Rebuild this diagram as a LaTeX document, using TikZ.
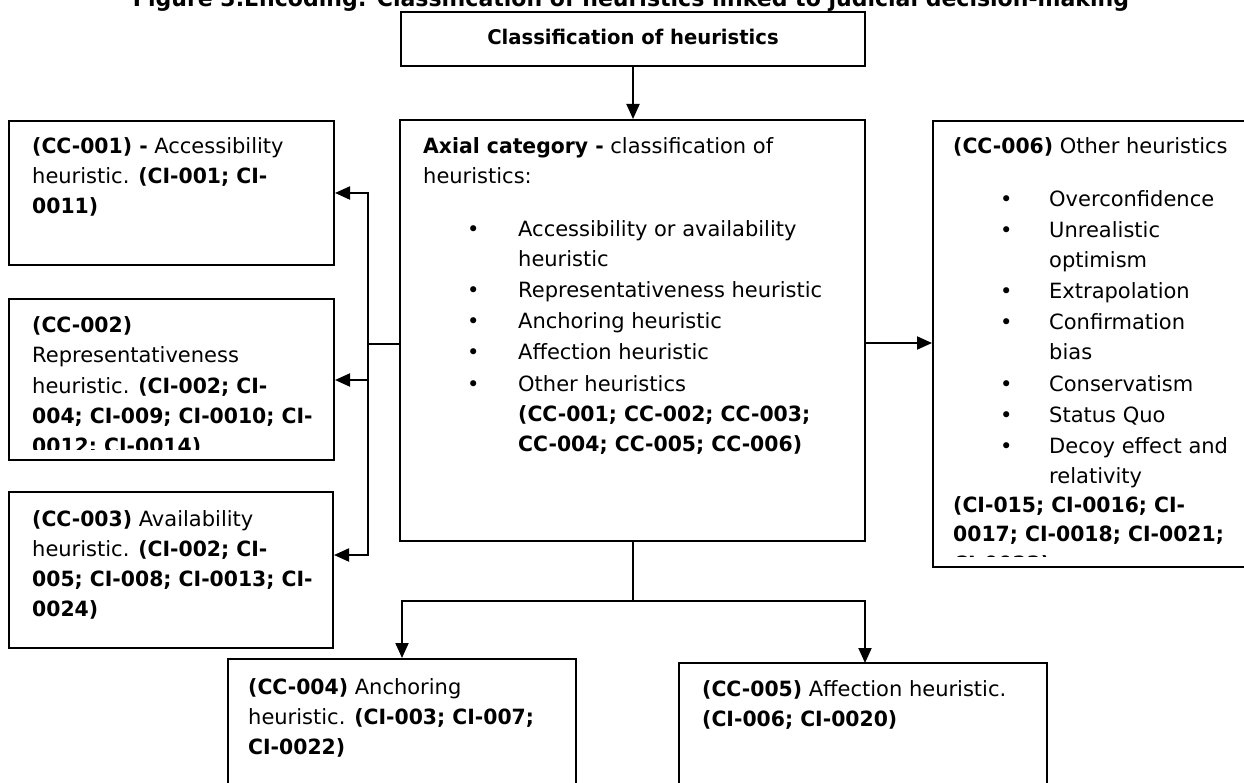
\documentclass[tikz,border=0pt]{standalone}
\usepackage{fontspec}
\setmainfont{DejaVu Sans}[BoldFeatures={FakeStretch=0.97}]
\usetikzlibrary{arrows.meta,fit}

% shared looks
\tikzset{
  box/.style={draw=black, line width=2pt, inner sep=0pt},
  conn/.style={draw=black, line width=2pt},
  arr/.style={conn, -{Triangle[length=15pt,width=13pt]}},
  twoarr/.style={conn, {Triangle[length=15pt,width=13pt]}-{Triangle[length=15pt,width=13pt]}},
  txt/.style={anchor=base west, inner sep=0pt, font=\fontsize{21}{30}\selectfont},
  head/.style={anchor=base, inner sep=0pt, font=\bfseries\fontsize{20.2}{30}\selectfont},
}

% a block of manually broken lines, hanging from its first baseline
\newcommand\lines[1]{\parbox[t]{420pt}{\raggedright #1}}
% bullet centred at #1, item text starting at #2
\newcommand\bul[2]{\makebox[#2][l]{\hspace*{#1}\makebox[0pt]{\textbullet}}}

\begin{document}
\begin{tikzpicture}[x=1pt,y=-1pt]
\useasboundingbox (0,0) rectangle (1244,783);
\clip (0,0) rectangle (1244,783);

% caption
\node[head, font=\bfseries\fontsize{22.7}{26}\selectfont] (caption) at (631,7)
  {Figure 3.Encoding: Classification of heuristics linked to judicial decision-making};

% boxes
\node[box, fit={(401,12) (865,66)}] (top) {};
\node[box, fit={(400,120) (865,541)}] (axial) {};
\node[box, fit={(9,121) (334,265)}] (cc1) {};
\node[box, fit={(9,299) (334,460)}] (cc2) {};
\node[box, fit={(9,492) (333,648)}] (cc3) {};
\node[box, fit={(933,121) (1262,567)}] (cc6) {};
\node[box, fit={(228,659) (576,800)}] (cc4) {};
\node[box, fit={(679,663) (1047,800)}] (cc5) {};

% texts
\node[head] (ttop) at (633,45) {Classification of heuristics};

\node[txt] (tcc1) at (32,154) {\lines{%
  \textbf{(CC-001) -} Accessibility\\
  heuristic. \textbf{(CI-001; CI-}\\
  \textbf{0011)}}};

\begin{scope}
  \clip (10,300) rectangle (333,449);
  \node[txt] (tcc2) at (32,333) {\lines{%
    \textbf{(CC-002)}\\
    Representativeness\\
    heuristic. \textbf{(CI-002; CI-}\\
    \textbf{004; CI-009; CI-0010; CI-}\\
    \textbf{0012; CI-0014)}}};
\end{scope}

\node[txt] (tcc3) at (32,526) {\lines{%
  \textbf{(CC-003)} Availability\\
  heuristic. \textbf{(CI-002; CI-}\\
  \textbf{005; CI-008; CI-0013; CI-}\\
  \textbf{0024)}}};

\node[txt] (taxial) at (423,154) {\lines{%
  \textbf{Axial category -} classification of\\
  heuristics:\\[23pt]
  \bul{50pt}{95pt}Accessibility or availability\\
  \hspace*{95pt}heuristic\\[1pt]
  \bul{50pt}{95pt}Representativeness heuristic\\[1pt]
  \bul{50pt}{95pt}Anchoring heuristic\\[1pt]
  \bul{50pt}{95pt}Affection heuristic\\[2pt]
  \bul{50pt}{95pt}Other heuristics\\
  \hspace*{95pt}\textbf{(CC-001; CC-002; CC-003;}\\
  \hspace*{95pt}\textbf{CC-004; CC-005; CC-006)}}};

\begin{scope}
  \clip (934,122) rectangle (1244,556);
  \node[txt] (tcc6) at (953,154) {\lines{%
    \textbf{(CC-006)} Other heuristics\\[23pt]
    \bul{53pt}{96pt}Overconfidence\\[1pt]
    \bul{53pt}{96pt}Unrealistic\\
    \hspace*{96pt}optimism\\[1pt]
    \bul{53pt}{96pt}Extrapolation\\[1pt]
    \bul{53pt}{96pt}Confirmation\\
    \hspace*{96pt}bias\\[2pt]
    \bul{53pt}{96pt}Conservatism\\[1pt]
    \bul{53pt}{96pt}Status Quo\\[1pt]
    \bul{53pt}{96pt}Decoy effect and\\
    \hspace*{96pt}relativity\\[-1pt]
    \textbf{(CI-015; CI-0016; CI-}\\[-1pt]
    \textbf{0017; CI-0018; CI-0021;}\\
    \textbf{CI-0023)}}};
\end{scope}

\node[txt] (tcc4) at (248,694) {\lines{%
  \textbf{(CC-004)} Anchoring\\
  heuristic. \textbf{(CI-003; CI-007;}\\
  \textbf{CI-0022)}}};

\node[txt] (tcc5) at (702,696) {\lines{%
  \textbf{(CC-005)} Affection heuristic.\\
  \textbf{(CI-006; CI-0020)}}};

% junction points of the connectors
\coordinate (jL) at (400,344);
\coordinate (bus1) at (368,193);
\coordinate (bus2) at (368,380);
\coordinate (bus3) at (368,555);
\coordinate (jR) at (865,343);
\coordinate (jB) at (633,601);
\coordinate (in5) at (865,663);

% connectors
\draw[arr] (top.south) -- (top.south |- axial.north);
\draw[arr] (jR) -- (jR -| cc6.west);
\draw[conn] (jL) -- (jL -| bus1);
\draw[twoarr] (cc3.east |- bus3) -- (bus3) -- (bus1) -- (cc1.east |- bus1);
\draw[arr] (bus2) -- (bus2 -| cc2.east);
\draw[conn] (axial.south |- jB) -- (axial.south);
\draw[twoarr] (cc4.north) -- (cc4.north |- jB) -- (in5 |- jB) -- (in5);
\end{tikzpicture}
\end{document}
